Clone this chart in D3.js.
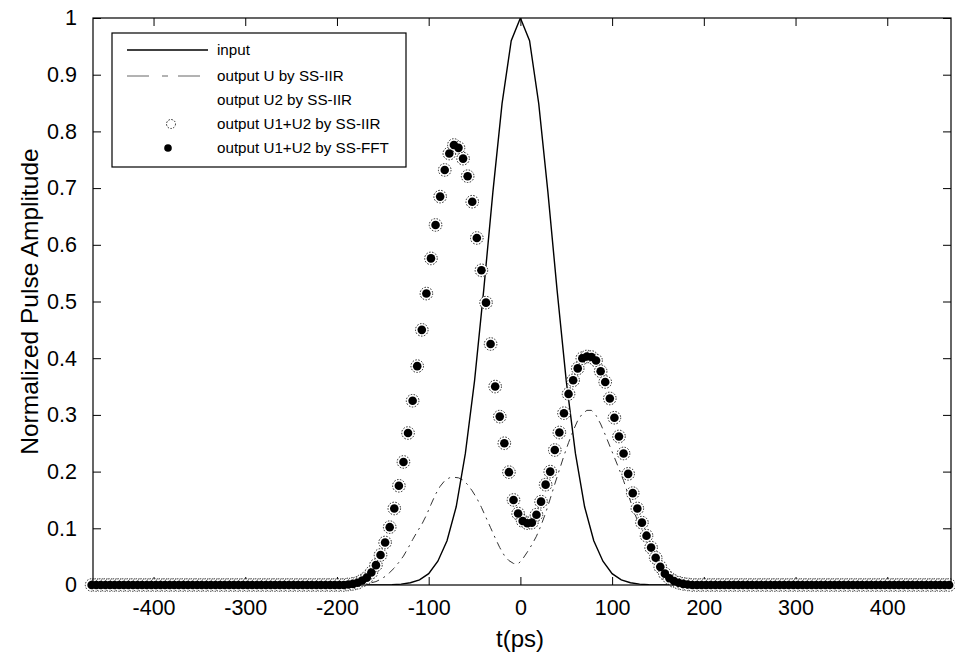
<!DOCTYPE html>
<html>
<head>
<meta charset="utf-8">
<script src="https://cdn.jsdelivr.net/npm/d3@7"></script>
<style>
  html, body { margin: 0; padding: 0; background: #fff; }
  svg { display: block; font-family: "Liberation Sans", Arial, Helvetica, sans-serif; }
</style>
</head>
<body>
<svg id="chart" width="955" height="663"></svg>
<script>
// Simulation time grids (ps)
const tSample = d3.range(-467.5, 468, 5);   // 188 samples, 5 ps apart
const tInput  = d3.range(-470, 471, 10);    // 95 samples, 10 ps apart

// Input pulse (normalized)
const inputAmp = [
  0,0,0,0,0,0,0,0,0,0,0,0,0,0,0,0,0,0,0,0,0,0,0,0,0,0,0,0,0,0,0,0,0,
  0.0005,0.0015,0.004,0.009,0.020,0.042,0.078,0.138,0.232,0.360,0.520,0.693,0.849,0.960,
  1,
  0.960,0.849,0.693,0.520,0.360,0.232,0.138,0.078,0.042,0.020,0.009,0.004,0.0015,0.0005,
  0,0,0,0,0,0,0,0,0,0,0,0,0,0,0,0,0,0,0,0,0,0,0,0,0,0,0,0,0,0,0,0,0
];

// Output U by SS-IIR (dash-dot curve)
const outU = [
  0,0,0,0,0,0,0,0,0,0,0,0,0,0,0,0,0,0,0,0,0,0,0,0,0,0,0,0,
  0,0,0,0,0,0,0,0,0,0,0,0,0,0,0,0,0,0,0,0,0,0,0,0,0,0,0,0,
  0,0.001,0.001,0.002,0.003,0.004,0.006,0.010,0.015,0.022,0.030,0.040,
  0.051,0.065,0.080,0.094,0.107,0.123,0.142,0.160,0.174,0.184,0.189,0.190,
  0.189,0.185,0.177,0.166,0.153,0.137,0.119,0.101,0.083,0.066,0.052,0.043,0.038,0.037,
  0.046,0.058,0.071,0.086,0.105,0.127,0.152,0.178,0.203,0.228,0.251,0.272,0.290,0.302,0.308,
  0.308,0.299,0.284,0.265,0.245,0.225,0.205,0.184,0.160,0.136,0.114,0.093,0.074,0.057,
  0.042,0.030,0.020,0.012,0.008,0.005,0.002,0.001,
  0,0,0,0,0,0,0,0,0,0,0,0,0,0,0,0,0,0,0,0,0,0,0,0,0,0,0,0,
  0,0,0,0,0,0,0,0,0,0,0,0,0,0,0,0,0,0,0,0,0,0,0,0,0,0,0,0,0
];

// Output U1+U2 by SS-IIR (open dotted circles)
const sumIIR = [
  0,0,0,0,0,0,0,0,0,0,0,0,0,0,0,0,0,0,0,0,0,0,0,0,0,0,0,0,
  0,0,0,0,0,0,0,0,0,0,0,0,0,0,0,0,0,0,0,0,0,0,0,0,0,0,0,0,
  0.001,0.002,0.004,0.008,0.013,0.022,0.035,0.053,0.075,0.102,0.135,0.175,
  0.217,0.268,0.325,0.386,0.450,0.514,0.576,0.635,0.685,0.732,0.761,0.776,
  0.771,0.752,0.721,0.676,0.612,0.555,0.498,0.425,0.350,0.297,0.250,0.199,0.150,0.126,
  0.113,0.109,0.110,0.124,0.147,0.177,0.200,0.238,0.269,0.303,0.337,0.361,0.382,0.400,0.403,
  0.402,0.396,0.377,0.358,0.329,0.295,0.262,0.232,0.196,0.162,0.135,0.110,0.087,0.066,
  0.048,0.032,0.020,0.012,0.007,0.004,0.002,0.001,
  0,0,0,0,0,0,0,0,0,0,0,0,0,0,0,0,0,0,0,0,0,0,0,0,0,0,0,0,
  0,0,0,0,0,0,0,0,0,0,0,0,0,0,0,0,0,0,0,0,0,0,0,0,0,0,0,0,0
];

// Output U1+U2 by SS-FFT (filled dots)
const sumFFT = [
  0,0,0,0,0,0,0,0,0,0,0,0,0,0,0,0,0,0,0,0,0,0,0,0,0,0,0,0,
  0,0,0,0,0,0,0,0,0,0,0,0,0,0,0,0,0,0,0,0,0,0,0,0,0,0,0,0,
  0.001,0.002,0.004,0.008,0.013,0.022,0.035,0.053,0.075,0.102,0.135,0.175,
  0.217,0.268,0.325,0.386,0.450,0.514,0.576,0.635,0.685,0.732,0.761,0.776,
  0.771,0.752,0.721,0.676,0.612,0.555,0.498,0.425,0.350,0.297,0.250,0.199,0.150,0.126,
  0.113,0.109,0.110,0.124,0.147,0.177,0.200,0.238,0.269,0.303,0.337,0.361,0.382,0.400,0.403,
  0.402,0.396,0.377,0.358,0.329,0.295,0.262,0.232,0.196,0.162,0.135,0.110,0.087,0.066,
  0.048,0.032,0.020,0.012,0.007,0.004,0.002,0.001,
  0,0,0,0,0,0,0,0,0,0,0,0,0,0,0,0,0,0,0,0,0,0,0,0,0,0,0,0,
  0,0,0,0,0,0,0,0,0,0,0,0,0,0,0,0,0,0,0,0,0,0,0,0,0,0,0,0,0
];

// Axis ticks and labels
const xTicks = [-400, -300, -200, -100, 0, 100, 200, 300, 400];
const xTickLabels = ["-400", "-300", "-200", "-100", "0", "100", "200", "300", "400"];
const yTicks = [0, 0.1, 0.2, 0.3, 0.4, 0.5, 0.6, 0.7, 0.8, 0.9, 1];
const yTickLabels = ["0", "0.1", "0.2", "0.3", "0.4", "0.5", "0.6", "0.7", "0.8", "0.9", "1"];
const legendLabels = [
  "input",
  "output U by SS-IIR",
  "output U2 by SS-IIR",
  "output U1+U2 by SS-IIR",
  "output U1+U2 by SS-FFT"
];

// ---- layout ----
const svg = d3.select("#chart");
const plot = { left: 93, right: 951, top: 18, bottom: 585 };

const x = d3.scaleLinear().domain([-466, 469.5]).range([plot.left, plot.right]);
const y = d3.scaleLinear().domain([0, 1]).range([plot.bottom, plot.top]);

svg.append("rect").attr("width", 955).attr("height", 663).attr("fill", "#fff");

svg.append("clipPath").attr("id", "plotClip")
  .append("rect")
  .attr("x", plot.left).attr("y", plot.top)
  .attr("width", plot.right - plot.left).attr("height", plot.bottom - plot.top);

// ---- axes (ticks drawn inward on all four sides) ----
const tickLen = 8;
const axisBottom = d3.axisBottom(x).tickValues(xTicks).tickSizeInner(-tickLen).tickSizeOuter(0).tickPadding(15)
  .tickFormat((d, i) => xTickLabels[i]);
const axisTop = d3.axisTop(x).tickValues(xTicks).tickSizeInner(-tickLen).tickSizeOuter(0).tickFormat("");
const axisLeft = d3.axisLeft(y).tickValues(yTicks).tickSizeInner(-tickLen).tickSizeOuter(0).tickPadding(16)
  .tickFormat((d, i) => yTickLabels[i]);
const axisRight = d3.axisRight(y).tickValues(yTicks).tickSizeInner(-tickLen).tickSizeOuter(0).tickFormat("");

function styleAxis(g) {
  g.select(".domain").remove();
  g.selectAll("line").attr("stroke", "#000").attr("stroke-width", 1);
  g.selectAll("text").attr("fill", "#000").attr("font-size", 21.5)
    .attr("font-family", "'Liberation Sans', Arial, sans-serif");
}

svg.append("g").attr("transform", `translate(0,${plot.bottom})`).call(axisBottom).call(styleAxis);
svg.append("g").attr("transform", `translate(0,${plot.top})`).call(axisTop).call(styleAxis);
svg.append("g").attr("transform", `translate(${plot.left},0)`).call(axisLeft).call(styleAxis);
svg.append("g").attr("transform", `translate(${plot.right},0)`).call(axisRight).call(styleAxis);

// ---- curves ----
const lineInput = d3.line().x((d, i) => x(tInput[i])).y(d => y(d));
const lineSample = d3.line().x((d, i) => x(tSample[i])).y(d => y(d));

const curves = svg.append("g").attr("clip-path", "url(#plotClip)");

curves.append("path")
  .datum(outU)
  .attr("d", lineSample)
  .attr("fill", "none")
  .attr("stroke", "#333")
  .attr("stroke-width", 1)
  .attr("stroke-dasharray", "8,5,2,5");

curves.append("path")
  .datum(inputAmp)
  .attr("d", lineInput)
  .attr("fill", "none")
  .attr("stroke", "#000")
  .attr("stroke-width", 1.4);

// ---- markers ----
const marks = svg.append("g");

marks.selectAll("circle.iir")
  .data(sumIIR)
  .join("circle")
  .attr("class", "iir")
  .attr("cx", (d, i) => x(tSample[i]))
  .attr("cy", d => y(d))
  .attr("r", 6.3)
  .attr("fill", "#fff")
  .attr("stroke", "#222")
  .attr("stroke-width", 1)
  .attr("stroke-dasharray", "1.5,1.5");

marks.selectAll("circle.fft")
  .data(sumFFT)
  .join("circle")
  .attr("class", "fft")
  .attr("cx", (d, i) => x(tSample[i]))
  .attr("cy", d => y(d))
  .attr("r", 4.3)
  .attr("fill", "#000");

// ---- frame ----
svg.append("rect")
  .attr("x", plot.left).attr("y", plot.top)
  .attr("width", plot.right - plot.left).attr("height", plot.bottom - plot.top)
  .attr("fill", "none").attr("stroke", "#000").attr("stroke-width", 1.2);

// ---- axis titles ----
svg.append("text")
  .attr("x", 520).attr("y", 647)
  .attr("text-anchor", "middle")
  .attr("font-size", 24)
  .attr("fill", "#000")
  .text("t(ps)");

svg.append("text")
  .attr("transform", `translate(38,${(plot.top + plot.bottom) / 2}) rotate(-90)`)
  .attr("text-anchor", "middle")
  .attr("font-size", 24.5)
  .attr("fill", "#000")
  .text("Normalized Pulse Amplitude");

// ---- legend ----
const lg = svg.append("g");
const lgBox = { x: 112, y: 33, w: 294, h: 134 };
lg.append("rect")
  .attr("x", lgBox.x).attr("y", lgBox.y).attr("width", lgBox.w).attr("height", lgBox.h)
  .attr("fill", "#fff").attr("stroke", "#000").attr("stroke-width", 1.2);

const rowY = [50, 76, 100, 124, 148];
const sampleX0 = 127, sampleX1 = 208, sampleMid = 168;

lg.append("line").attr("x1", sampleX0).attr("x2", sampleX1).attr("y1", rowY[0]).attr("y2", rowY[0])
  .attr("stroke", "#000").attr("stroke-width", 1.4);
lg.append("line").attr("x1", sampleX0).attr("x2", sampleX1 - 5).attr("y1", rowY[1]).attr("y2", rowY[1])
  .attr("stroke", "#666").attr("stroke-width", 1).attr("stroke-dasharray", "22,13,6,10,22");
lg.append("circle").attr("cx", sampleMid + 3).attr("cy", rowY[3]).attr("r", 4.5)
  .attr("fill", "#fff").attr("stroke", "#222").attr("stroke-width", 1).attr("stroke-dasharray", "1.5,1.5");
lg.append("circle").attr("cx", sampleMid).attr("cy", rowY[4]).attr("r", 3.8).attr("fill", "#000");

lg.selectAll("text.lbl")
  .data(legendLabels)
  .join("text")
  .attr("class", "lbl")
  .attr("x", 217)
  .attr("y", (d, i) => rowY[i] + 5)
  .attr("font-size", 15.2)
  .attr("fill", "#000")
  .text(d => d);
</script>
</body>
</html>
